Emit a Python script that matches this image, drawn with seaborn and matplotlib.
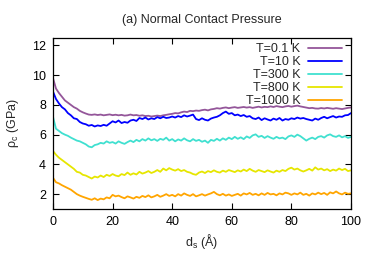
import numpy as np
import pandas as pd
import matplotlib
matplotlib.use('Agg')
import matplotlib.pyplot as plt
import seaborn as sns

# sliding distance (Angstrom), 1 A steps
d_s = list(range(0, 101))

# normal contact pressure (GPa)
p_01K = [9.8, 9.1, 8.8, 8.55, 8.3, 8.15, 8.0, 7.85, 7.75, 7.6,
         7.5, 7.42, 7.35, 7.33, 7.36, 7.32, 7.35, 7.3, 7.33, 7.36,
         7.31, 7.34, 7.3, 7.33, 7.28, 7.3, 7.35, 7.3, 7.32, 7.27,
         7.3, 7.25, 7.27, 7.22, 7.25, 7.28, 7.25, 7.3, 7.33, 7.37,
         7.4, 7.45, 7.43, 7.5, 7.55, 7.52, 7.6, 7.58, 7.62, 7.6,
         7.65, 7.68, 7.63, 7.7, 7.73, 7.78, 7.75, 7.8, 7.83, 7.78,
         7.82, 7.85, 7.8, 7.83, 7.86, 7.82, 7.85, 7.8, 7.84, 7.88,
         7.83, 7.87, 7.85, 7.9, 7.86, 7.92, 7.88, 7.85, 7.9, 7.93,
         7.88, 7.92, 7.95, 7.9, 7.86, 7.82, 7.78, 7.8, 7.76, 7.75,
         7.79, 7.76, 7.8, 7.77, 7.74, 7.78, 7.75, 7.72, 7.76, 7.8,
         7.83]
p_10K = [8.9, 8.4, 8.1, 7.85, 7.7, 7.45, 7.3, 7.1, 7.05, 6.85,
         6.75, 6.7, 6.6, 6.65, 6.55, 6.62, 6.58, 6.66, 6.6, 6.75,
         6.9, 6.82, 6.95, 6.78, 6.85, 6.8, 6.95, 7.0, 6.92, 7.12,
         7.05, 7.15, 7.02, 7.1, 7.05, 7.18, 7.1, 7.2, 7.12, 7.15,
         7.22, 7.15, 7.25, 7.18, 7.3, 7.22, 7.28, 7.35, 7.05, 6.98,
         7.1, 7.0, 6.95, 7.08, 7.15, 7.2, 7.3, 7.45, 7.55, 7.4,
         7.45, 7.3, 7.35, 7.25, 7.32, 7.2, 7.25, 7.1, 7.05, 7.15,
         6.98, 7.1, 7.02, 6.95, 7.08, 7.0, 7.12, 6.95, 7.05, 7.0,
         7.1, 7.05, 7.15, 7.08, 7.12, 7.05, 7.0, 6.95, 7.08, 7.0,
         7.12, 7.2, 7.1, 7.18, 7.25, 7.15, 7.22, 7.2, 7.3, 7.32,
         7.45]
p_300K = [7.2, 6.4, 6.25, 6.1, 6.0, 5.92, 5.8, 5.7, 5.6, 5.55,
          5.45, 5.35, 5.2, 5.15, 5.3, 5.35, 5.45, 5.4, 5.55, 5.45,
          5.5, 5.4, 5.55, 5.45, 5.38, 5.5, 5.6, 5.5, 5.65, 5.55,
          5.7, 5.6, 5.75, 5.62, 5.7, 5.58, 5.72, 5.65, 5.8, 5.6,
          5.7, 5.55, 5.68, 5.6, 5.75, 5.62, 5.55, 5.7, 5.58, 5.65,
          5.52, 5.6, 5.45, 5.65, 5.58, 5.72, 5.6, 5.75, 5.65, 5.8,
          5.7, 5.85, 5.72, 5.82, 5.7, 5.88, 5.78, 5.95, 6.02, 5.85,
          5.92, 5.78, 5.9, 5.8, 5.72, 5.85, 5.75, 5.8, 5.7, 5.88,
          5.95, 5.85, 6.0, 5.9, 5.75, 5.6, 5.72, 5.8, 5.7, 5.85,
          5.9, 5.8, 5.95, 6.02, 5.9, 5.85, 5.95, 5.82, 5.9, 5.78,
          5.85]
p_800K = [4.9, 4.65, 4.45, 4.3, 4.15, 4.0, 3.85, 3.7, 3.5, 3.45,
          3.3, 3.25, 3.15, 3.05, 3.18, 3.12, 3.25, 3.15, 3.3, 3.22,
          3.35, 3.25, 3.2, 3.35, 3.28, 3.45, 3.3, 3.4, 3.32, 3.5,
          3.38, 3.45, 3.55, 3.42, 3.5, 3.62, 3.5, 3.72, 3.6, 3.75,
          3.65, 3.58, 3.68, 3.55, 3.62, 3.5, 3.45, 3.35, 3.3, 3.45,
          3.52, 3.42, 3.55, 3.48, 3.6, 3.5, 3.45, 3.58, 3.5, 3.62,
          3.55, 3.48, 3.6, 3.52, 3.65, 3.55, 3.7, 3.58, 3.5, 3.62,
          3.55, 3.48, 3.6, 3.52, 3.45, 3.58, 3.5, 3.62, 3.55, 3.7,
          3.78, 3.65, 3.72, 3.6, 3.52, 3.6, 3.7, 3.58, 3.8, 3.65,
          3.72, 3.6, 3.68, 3.55, 3.65, 3.58, 3.72, 3.62, 3.7, 3.55,
          3.6]
p_1000K = [3.1, 2.8, 2.72, 2.6, 2.5, 2.4, 2.3, 2.15, 2.0, 1.9,
           1.82, 1.75, 1.68, 1.62, 1.72, 1.6, 1.7, 1.65, 1.78, 1.72,
           1.95, 1.85, 1.9, 1.8, 1.72, 1.85, 1.78, 1.7, 1.82, 1.75,
           1.88, 1.8, 1.92, 1.78, 1.85, 1.95, 1.82, 1.9, 2.0, 1.88,
           1.95, 1.85, 2.0, 1.9, 2.05, 1.95, 1.88, 2.0, 1.85, 1.92,
           2.0, 1.9, 1.98, 2.05, 2.15, 2.0, 1.92, 2.02, 1.9, 1.98,
           1.88, 1.95, 2.02, 1.9, 2.05, 1.98, 2.08, 1.95, 2.02, 1.92,
           2.05, 1.95, 2.08, 1.98, 2.02, 1.92, 2.05, 1.98, 2.1, 2.05,
           1.95, 2.05, 1.98, 2.1, 1.95, 2.02, 1.9, 2.05, 1.98, 2.1,
           2.0, 2.08, 1.95, 2.12, 2.05, 2.18, 2.05, 1.98, 2.1, 2.02,
           2.05]

labels = ['T=0.1 K', 'T=10 K', 'T=300 K', 'T=800 K', 'T=1000 K']
colors = ['#94569a', '#0000ff', '#40e0d0', '#e6e600', '#ffa500']
series = [p_01K, p_10K, p_300K, p_800K, p_1000K]

# long form table for seaborn
df = pd.concat([pd.DataFrame({'d': d_s, 'p': s, 'T': lab})
                for s, lab in zip(series, labels)], ignore_index=True)

sns.set_style('ticks')
plt.rcParams['font.family'] = ['Liberation Sans', 'DejaVu Sans']
plt.rcParams['mathtext.fontset'] = 'custom'
plt.rcParams['mathtext.rm'] = 'Liberation Sans'
plt.rcParams['mathtext.it'] = 'Liberation Sans'

fig = plt.figure(figsize=(3.74, 2.62), dpi=100)
ax = fig.add_axes([0.1417, 0.2023, 0.7968, 0.6527])

sns.lineplot(data=df, x='d', y='p', hue='T', palette=dict(zip(labels, colors)),
             linewidth=1.3, ax=ax)

ax.set_xlim(0, 100)
ax.set_ylim(1, 12.5)
ax.set_xticks([0, 20, 40, 60, 80, 100])
ax.set_yticks([2, 4, 6, 8, 10, 12])
ax.tick_params(direction='in', length=4, width=0.8, top=True, right=True,
               labelsize=9, pad=5, colors='black')
for sp in ax.spines.values():
    sp.set_linewidth(0.9)
    sp.set_color('black')

ax.set_title('(a) Normal Contact Pressure', fontsize=9, pad=11)
ax.set_xlabel(r'd$_\mathrm{s}$ (Å)', fontsize=9, labelpad=3)
ax.set_ylabel(r'ρ$_\mathrm{c}$ (GPa)', fontsize=9, labelpad=8)

leg = ax.legend(loc='upper right', frameon=False, markerfirst=False, fontsize=9,
                handlelength=2.7, handletextpad=0.6, labelspacing=0.08,
                borderaxespad=0.0, bbox_to_anchor=(0.985, 1.0))
for t in leg.get_texts():
    t.set_ha('right')
leg._legend_box.align = 'right'

fig.savefig('out.png', dpi=100)
